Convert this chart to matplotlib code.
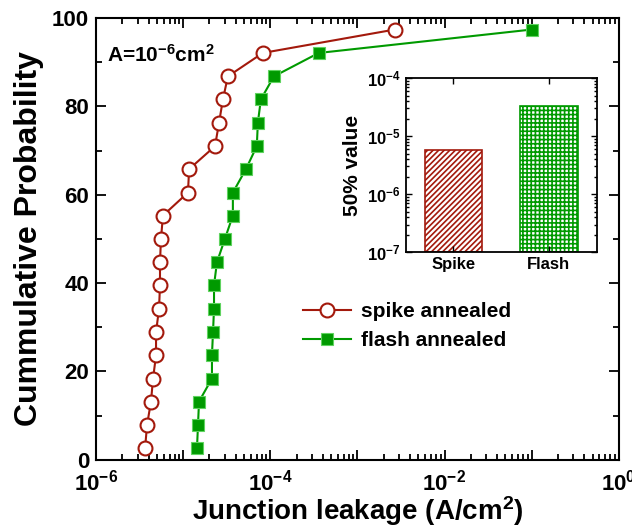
import matplotlib
matplotlib.use('Agg')
import matplotlib.pyplot as plt
from matplotlib.ticker import LogLocator, MultipleLocator, NullFormatter

plt.rcParams['font.family'] = ['Liberation Sans', 'DejaVu Sans']
plt.rcParams['font.weight'] = 'bold'
plt.rcParams['mathtext.fontset'] = 'custom'
plt.rcParams['mathtext.rm'] = 'Liberation Sans:bold'
plt.rcParams['mathtext.bf'] = 'Liberation Sans:bold'
plt.rcParams['mathtext.default'] = 'bf'
plt.rcParams['hatch.linewidth'] = 1.2

# 累积概率（19 个点）
prob = [2.6, 7.9, 13.2, 18.4, 23.7, 28.9, 34.2, 39.5, 44.7, 50.0,
        55.3, 60.5, 65.8, 71.0, 76.3, 81.6, 86.8, 92.1, 97.4]

spike_leak = [3.65e-6, 3.85e-6, 4.27e-6, 4.51e-6, 4.88e-6, 4.88e-6, 5.28e-6,
              5.42e-6, 5.42e-6, 5.56e-6, 5.86e-6, 1.135e-5, 1.17e-5, 2.32e-5,
              2.58e-5, 2.86e-5, 3.26e-5, 8.2e-5, 2.69e-3]
flash_leak = [1.44e-5, 1.48e-5, 1.52e-5, 2.14e-5, 2.14e-5, 2.20e-5, 2.26e-5,
              2.26e-5, 2.44e-5, 3.01e-5, 3.72e-5, 3.72e-5, 5.25e-5, 7.0e-5,
              7.2e-5, 7.8e-5, 1.1e-4, 3.6e-4, 1.0e-1]

# 插图：50% 值
bar_names = ['Spike', 'Flash']
bar_values = [5.7e-6, 3.3e-5]

red = '#a3190c'
green = '#009a00'

fig = plt.figure(figsize=(6.32, 5.31), dpi=100)
ax = fig.add_axes([0.152, 0.134, 0.827, 0.832])

ax.plot(spike_leak, prob, '-o', color=red, lw=1.5, ms=10,
        mfc='white', mec=red, mew=1.5, label='spike annealed')
ax.plot(flash_leak, prob, '-s', color=green, lw=1.5, ms=8.5,
        mfc=green, mec='#5fd35f', mew=0.8, label='flash annealed')

ax.set_xscale('log')
ax.set_xlim(1e-6, 1)
ax.set_ylim(0, 100)
ax.set_xticks([1e-6, 1e-5, 1e-4, 1e-3, 1e-2, 1e-1, 1])
ax.set_xticklabels([r'$10^{-6}$', '', r'$10^{-4}$', '', r'$10^{-2}$', '', r'$10^{0}$'])
ax.xaxis.set_minor_locator(LogLocator(base=10, subs=range(2, 10), numticks=20))
ax.xaxis.set_minor_formatter(NullFormatter())
ax.yaxis.set_major_locator(MultipleLocator(20))
ax.yaxis.set_minor_locator(MultipleLocator(10))
ax.tick_params(which='both', direction='in', top=True, right=True, width=1.3)
ax.tick_params(which='major', length=7, labelsize=16)
ax.tick_params(axis='x', which='major', pad=7)
ax.tick_params(axis='y', which='major', pad=5)
ax.tick_params(which='minor', length=4)
for s in ax.spines.values():
    s.set_linewidth(1.5)

ax.set_xlabel(r'Junction leakage (A/cm$^2$)', fontsize=20, fontweight='bold', labelpad=-1)
ax.set_ylabel('Cummulative Probability', fontsize=23, fontweight='bold', labelpad=6)
ax.text(0.02, 0.9, r'A=10$^{-6}$cm$^2$', transform=ax.transAxes,
        fontsize=15, fontweight='bold')

ax.legend(loc='upper left', bbox_to_anchor=(0.36, 0.40), frameon=False,
          fontsize=15, handlelength=2.3, handletextpad=0.5, labelspacing=0.5)

# 插图
ins = fig.add_axes([0.642, 0.525, 0.302, 0.328])
ins.bar([0, 1], bar_values, width=0.6, bottom=1e-7, color='white',
        edgecolor=[red, green], hatch=['//////', '++++'], lw=1.2)
ins.set_yscale('log')
ins.set_ylim(1e-7, 1e-4)
ins.set_xlim(-0.5, 1.5)
ins.set_xticks([0, 1])
ins.set_xticklabels(bar_names)
ins.yaxis.set_minor_formatter(NullFormatter())
ins.set_ylabel('50% value', fontsize=15, fontweight='bold')
ins.tick_params(which='both', direction='in', top=True, right=True, width=1)
ins.tick_params(which='major', length=4, labelsize=12)
ins.tick_params(which='minor', length=2)
for s in ins.spines.values():
    s.set_linewidth(1.3)

fig.savefig('out.png', dpi=100)
